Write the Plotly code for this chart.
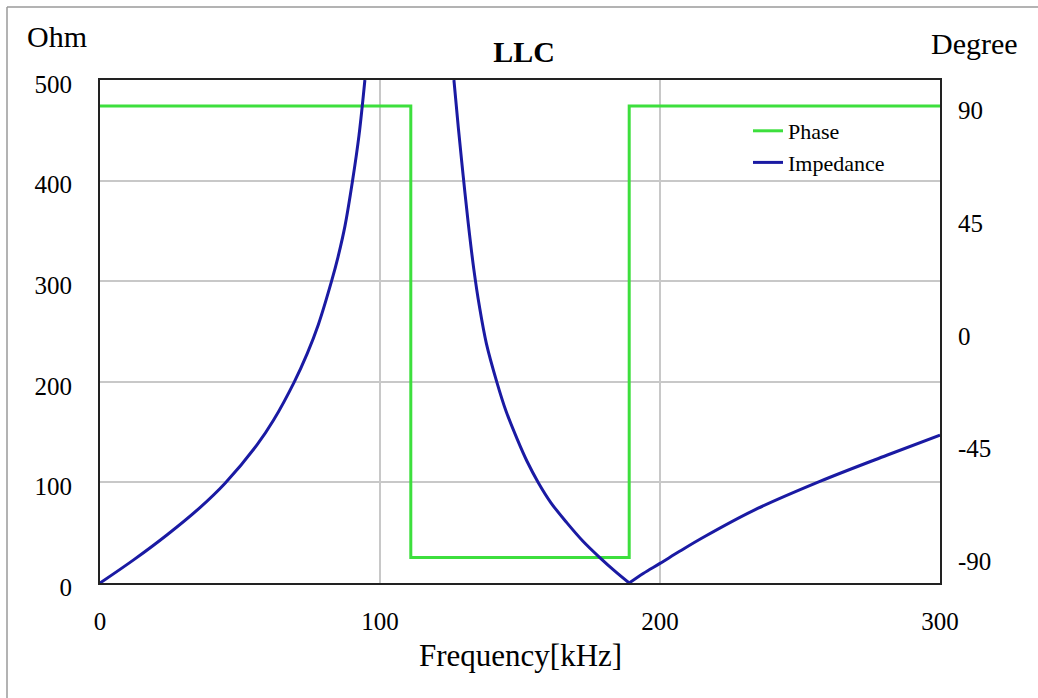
import plotly.graph_objects as go

# ---- data ----
phase_freq = [0, 111, 111, 189, 189, 300]
phase_deg = [90, 90, -90, -90, 90, 90]

imp_freq_low = [0, 12.0, 24.0, 35.7, 44.6, 56.0, 62.0, 69.4, 74.0, 78.0, 82.7, 85.0, 87.5, 90.2, 92.5, 94.6]
imp_ohm_low = [0, 23, 48, 75, 99, 137, 162, 200, 228, 257, 300, 324, 355, 400, 445, 500]

imp_freq_mid = [126.4, 128.0, 129.7, 131.5, 133.5, 135.5, 138.0, 141.7, 145.0, 149.0, 152.5, 156.5, 161.0, 166.7, 172.5, 178.6, 184.0, 189.0]
imp_ohm_mid = [500, 452, 405, 358, 312, 275, 238, 200, 171, 143, 121, 100, 80, 60, 41.5, 25, 11.5, 0]

imp_freq_high = [189.0, 194.0, 200.0, 207.0, 215.5, 233.3, 257.1, 281.0, 300.0]
imp_ohm_high = [0, 9.5, 19.5, 31.5, 45.5, 72, 101, 127, 147]

x_ticks = [0, 100, 200, 300]
ohm_ticks = [0, 100, 200, 300, 400, 500]
deg_ticks = [-90, -45, 0, 45, 90]
deg_labels = ["-90", "-45", "0", "45", "90"]

FONT = "Liberation Serif"
GREEN = "#3ddf3d"
BLUE = "#1a1aa3"

fig = go.Figure()
fig.add_trace(go.Scatter(x=phase_freq, y=phase_deg, mode="lines", name="Phase",
                         line=dict(color=GREEN, width=3), yaxis="y"))
segments = [(imp_freq_low, imp_ohm_low), (imp_freq_mid, imp_ohm_mid), (imp_freq_high, imp_ohm_high)]
for i, (fx, fy) in enumerate(segments):
    fig.add_trace(go.Scatter(x=fx, y=fy, mode="lines", name="Impedance",
                             legendgroup="imp", showlegend=(i == 0),
                             line=dict(color=BLUE, width=3, shape="spline", smoothing=1.0),
                             yaxis="y2"))

W, H = 1038, 698
L, R, T, B = 100, 98, 80, 115
pw, ph = W - L - R, H - T - B

def px(xp):
    return (xp - L) / pw

def py(yp):
    return (H - B - yp) / ph

fig.update_layout(
    width=W, height=H,
    margin=dict(l=L, r=R, t=T, b=B, pad=0),
    paper_bgcolor="white", plot_bgcolor="white",
    font=dict(family=FONT, size=25, color="black"),
    showlegend=True,
    legend=dict(x=px(748), y=py(110), xanchor="left", yanchor="top",
                bgcolor="rgba(0,0,0,0)", font=dict(size=22, family=FONT),
                traceorder="normal", tracegroupgap=0),
    title=dict(text="<b>LLC</b>", x=524 / W, xanchor="center", y=1 - 51 / H,
               yanchor="middle", yref="container", font=dict(size=30, family=FONT)),
    xaxis=dict(range=[0, 300], tickvals=x_ticks, showgrid=True, gridcolor="#c8c8c8",
               gridwidth=1.5, zeroline=False, showline=True, linecolor="#222",
               linewidth=2, mirror=True, ticks="", ticklabelstandoff=15),
    yaxis=dict(range=[-100.2, 100.4], tickvals=deg_ticks, ticktext=deg_labels, side="right",
               showgrid=False, zeroline=False, showline=True, linecolor="#222",
               linewidth=2, mirror=True, ticks="", ticklabelstandoff=11,
               ticklabelshift=4),
    yaxis2=dict(range=[0, 500], tickvals=ohm_ticks, side="left", overlaying="y",
                showgrid=True, gridcolor="#c8c8c8", gridwidth=1.5, zeroline=False,
                showline=False, ticks="", ticklabelstandoff=27, ticklabelshift=4),
    annotations=[
        dict(text="Ohm", x=px(56.5), y=py(36), xref="paper", yref="paper",
             showarrow=False, xanchor="center", yanchor="middle",
             font=dict(size=30, family=FONT)),
        dict(text="Degree", x=px(974), y=py(43), xref="paper", yref="paper",
             showarrow=False, xanchor="center", yanchor="middle",
             font=dict(size=30, family=FONT)),
        dict(text="Frequency[kHz]", x=px(520.5), y=py(655), xref="paper", yref="paper",
             showarrow=False, xanchor="center", yanchor="middle",
             font=dict(size=31, family=FONT)),
    ],
    shapes=[
        dict(type="line", xref="paper", yref="paper", x0=px(7), x1=px(7),
             y0=py(7), y1=py(H + 5), line=dict(color="#9a9a9a", width=1.5)),
        dict(type="line", xref="paper", yref="paper", x0=px(7), x1=px(W + 5),
             y0=py(7), y1=py(7), line=dict(color="#9a9a9a", width=1.5)),
    ],
)

fig.write_html("out.html")
